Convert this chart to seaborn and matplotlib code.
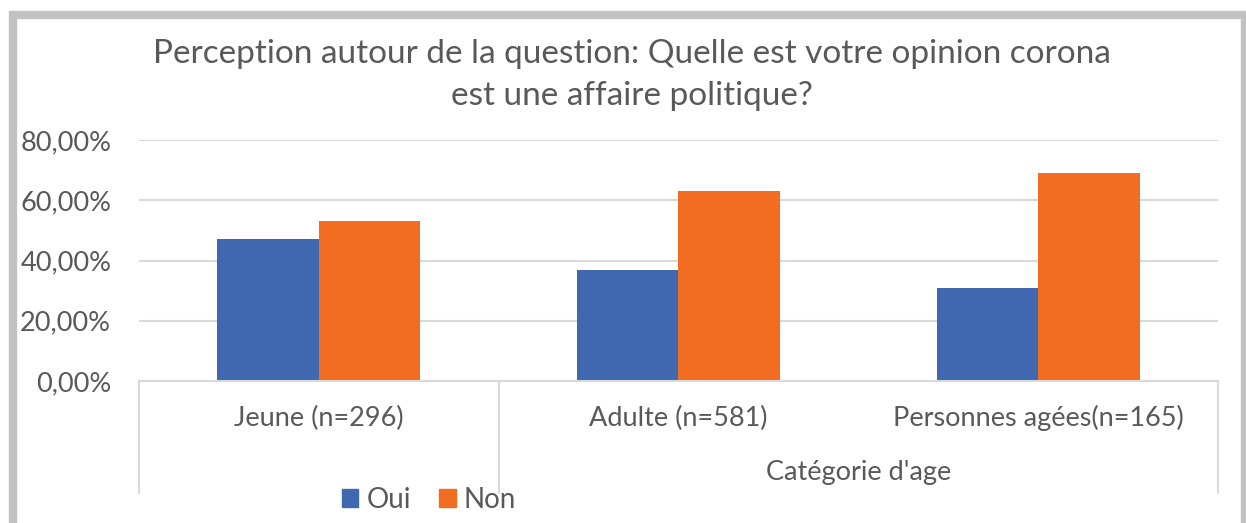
import pandas as pd
import seaborn as sns
import matplotlib.pyplot as plt
import matplotlib.patches as patches
import matplotlib.transforms as mtransforms
from matplotlib.ticker import FuncFormatter

# data
categories = ['Jeune (n=296)', 'Adulte (n=581)', 'Personnes agées(n=165)']
oui = [0.47, 0.37, 0.31]
non = [0.53, 0.63, 0.69]
series_names = ['Oui', 'Non']
colors = ['#4068B0', '#F26C22']
title = 'Perception autour de la question: Quelle est votre opinion corona\nest une affaire politique?'
outer_label = "Catégorie d'age"

df = pd.DataFrame({
    'categorie': categories * 2,
    'reponse': ['Oui'] * 3 + ['Non'] * 3,
    'pct': oui + non,
})

sns.set_theme(style='white')
plt.rcParams['font.family'] = ['Lato', 'DejaVu Sans']
text_col = '#595959'
grid_col = '#D9D9D9'

W, H = 1246, 523
fig = plt.figure(figsize=(W / 100, H / 100), dpi=100)
ax = fig.add_axes([139 / W, 1 - 381 / H, (1218 - 139) / W, (381 - 140) / H])

sns.barplot(data=df, x='categorie', y='pct', hue='reponse',
            hue_order=series_names, palette=colors, width=0.565,
            saturation=1, legend=False, ax=ax, linewidth=0)

ax.set_ylim(0, 0.8)
ax.set_xlim(-0.5, 2.5)
ax.set_yticks([0, 0.2, 0.4, 0.6, 0.8])
ax.yaxis.set_major_formatter(FuncFormatter(lambda v, p: f'{v*100:.2f}%'.replace('.', ',')))
ax.tick_params(axis='y', length=0, pad=20, labelsize=19.5, labelcolor=text_col)
ax.set_xticks([])
ax.set_xlabel('')
ax.set_ylabel('')
ax.yaxis.grid(True, color=grid_col, linewidth=1.5)
ax.set_axisbelow(True)
for s in ['left', 'right', 'top']:
    ax.spines[s].set_visible(False)
ax.spines['bottom'].set_color(grid_col)
ax.spines['bottom'].set_linewidth(1.5)

# multi-level category axis
trans = mtransforms.blended_transform_factory(ax.transData, ax.transAxes)
ah = 381 - 140
for i, c in enumerate(categories):
    ax.text(i, (381 - 418) / ah, c, transform=trans, ha='center', va='center',
            fontsize=19.5, color=text_col)
for xs in [-0.5, 0.5, 2.5]:
    ax.plot([xs, xs], [0, (381 - 493) / ah], transform=trans, color=grid_col,
            linewidth=1.5, clip_on=False)
ax.text(1.5, (381 - 473) / ah, outer_label, transform=trans, ha='center',
        va='center', fontsize=19.5, color=text_col)

# title
fig.text(632 / W, 1 - 75 / H, title, ha='center', va='center', fontsize=24,
         color=text_col, linespacing=1.5)

# legend
handles = [patches.Patch(color=c, label=n) for c, n in zip(colors, series_names)]
fig.legend(handles=handles, loc='center', bbox_to_anchor=(429 / W, 1 - 500 / H),
           ncol=2, frameon=False, fontsize=20, handlelength=0.6, handleheight=0.6,
           handletextpad=0.3, columnspacing=1.0, labelcolor=text_col,
           borderpad=0)

# outer frame
rect = patches.Rectangle((13.5 / W, -0.05), (1245 - 13.5) / W, 1 - 15.5 / H + 0.05,
                         transform=fig.transFigure, fill=False,
                         edgecolor='#C2C2C2', linewidth=6, clip_on=False)
fig.patches.append(rect)

fig.savefig('out.png', dpi=100)
